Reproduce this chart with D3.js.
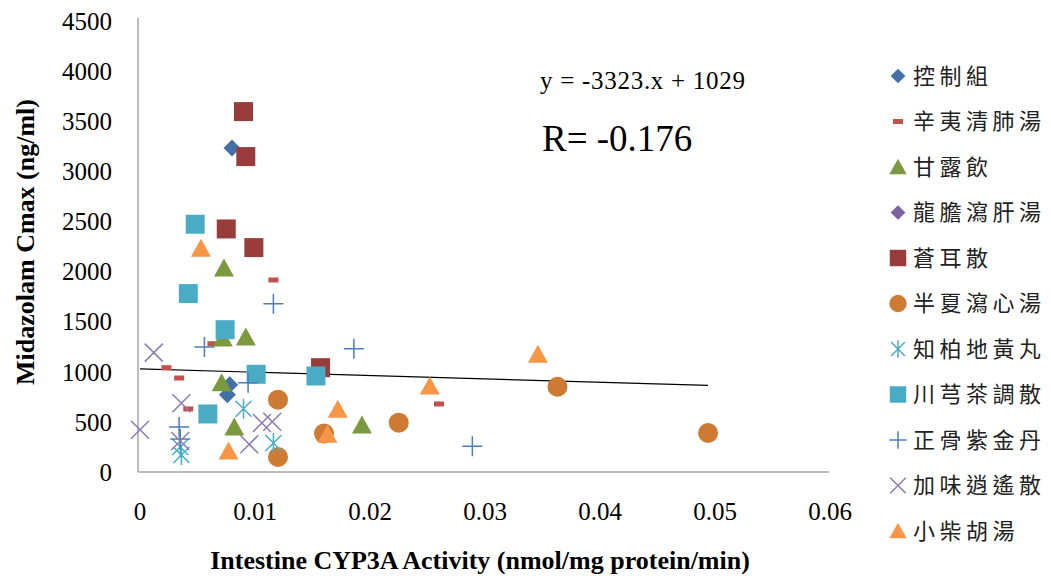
<!DOCTYPE html>
<html>
<head>
<meta charset="utf-8">
<script src="https://cdn.jsdelivr.net/npm/d3@7"></script>
<style>
  html, body { margin: 0; padding: 0; background: #fff; }
  svg { display: block; }
  .serif { font-family: "Liberation Serif", "Times New Roman", serif; }
  .cjk { font-family: "Noto Sans CJK TC", "Noto Sans CJK SC", serif; }
</style>
</head>
<body>
<svg id="chart" width="1051" height="576"></svg>
<script>
// Intestine CYP3A activity (x) vs Midazolam Cmax (y), one array pair per formula group
const seriesNames = ["控制組", "辛夷清肺湯", "甘露飲", "龍膽瀉肝湯", "蒼耳散", "半夏瀉心湯",
                     "知柏地黃丸", "川芎茶調散", "正骨紫金丹", "加味逍遙散", "小柴胡湯"];

const controlX = [0.0080, 0.0078, 0.0076];
const controlY = [3234, 870, 770];

const xinyiX = [0.0116, 0.0063, 0.0023, 0.0034, 0.0042, 0.0260];
const xinyiY = [1916, 1280, 1041, 938, 629, 679];

const ganluX = [0.0073, 0.0092, 0.0072, 0.0071, 0.0082, 0.0193];
const ganluY = [2036, 1347, 1337, 891, 449, 469];

const longdanX = [];
const longdanY = [];

const cangerX = [0.0090, 0.0092, 0.0075, 0.0099, 0.0157];
const cangerY = [3596, 3147, 2425, 2239, 1041];

const banxiaX = [0.0120, 0.0120, 0.0160, 0.0225, 0.0363, 0.0494];
const banxiaY = [722, 150, 383, 492, 851, 389];

const zhibaiX = [0.0090, 0.0116, 0.0035, 0.0036];
const zhibaiY = [632, 289, 250, 170];

const chuanxiongX = [0.0048, 0.0042, 0.0074, 0.0101, 0.0059, 0.0153];
const chuanxiongY = [2472, 1780, 1420, 975, 579, 958];

const zhengguX = [0.0116, 0.0056, 0.0094, 0.0034, 0.0035, 0.0186, 0.0289];
const zhengguY = [1680, 1248, 891, 449, 329, 1231, 256];

const jiaweiX = [0.0012, 0.0036, 0.0000, 0.0106, 0.0115, 0.0095, 0.0035];
const jiaweiY = [1191, 686, 422, 489, 502, 276, 309];

const xiaochaiX = [0.0053, 0.0077, 0.0172, 0.0163, 0.0252, 0.0346];
const xiaochaiY = [2233, 209, 626, 376, 858, 1175];

const xTicks = [0, 0.01, 0.02, 0.03, 0.04, 0.05, 0.06];
const yTicks = [0, 500, 1000, 1500, 2000, 2500, 3000, 3500, 4000, 4500];

// fitted trend line y = slope * x + intercept
const slope = -3323;
const intercept = 1029;
const equationText = "y = -3323.x + 1029";
const rText = "R= -0.176";

const xTitle = "Intestine CYP3A Activity (nmol/mg protein/min)";
const yTitle = "Midazolam Cmax (ng/ml)";

// ---- marker shapes -------------------------------------------------------
const diamondType = { draw(c, s) { const r = Math.sqrt(s) / 2; c.moveTo(0, -r); c.lineTo(r, 0); c.lineTo(0, r); c.lineTo(-r, 0); c.closePath(); } };
const squareType = { draw(c, s) { const h = Math.sqrt(s) / 2; c.rect(-h, -h, 2 * h, 2 * h); } };
const dashType = { draw(c, s) { c.rect(-5, -2.5, 10, 5); } };
const triangleType = { draw(c, s) { const w = Math.sqrt(s) / 2; c.moveTo(0, -w * 0.95); c.lineTo(w, w * 0.85); c.lineTo(-w, w * 0.85); c.closePath(); } };
const circleType = { draw(c, s) { const r = Math.sqrt(s) / 2; c.moveTo(r, 0); c.arc(0, 0, r, 0, 2 * Math.PI); } };
const plusType = { draw(c, s) { const r = Math.sqrt(s) / 2; c.moveTo(-r, 0); c.lineTo(r, 0); c.moveTo(0, -r); c.lineTo(0, r); } };
const timesType = { draw(c, s) { const r = Math.sqrt(s) / 2; c.moveTo(-r, -r); c.lineTo(r, r); c.moveTo(-r, r); c.lineTo(r, -r); } };
const asteriskType = { draw(c, s) { const r = Math.sqrt(s) / 2; c.moveTo(-r, -r); c.lineTo(r, r); c.moveTo(-r, r); c.lineTo(r, -r); c.moveTo(0, -r * 1.25); c.lineTo(0, r * 1.25); } };

const groups = [
  { xs: controlX, ys: controlY, type: diamondType, size: 17 * 17, fill: "#4470A8", stroke: null },
  { xs: xinyiX, ys: xinyiY, type: dashType, size: 50, fill: "#C4504C", stroke: null },
  { xs: ganluX, ys: ganluY, type: triangleType, size: 20 * 20, fill: "#7B9A3F", stroke: null },
  { xs: longdanX, ys: longdanY, type: diamondType, size: 17 * 17, fill: "#7E61A0", stroke: null },
  { xs: cangerX, ys: cangerY, type: squareType, size: 19 * 19, fill: "#983D3B", stroke: null },
  { xs: banxiaX, ys: banxiaY, type: circleType, size: 20 * 20, fill: "#CE7A33", stroke: null },
  { xs: zhibaiX, ys: zhibaiY, type: asteriskType, size: 16 * 16, fill: "none", stroke: "#4BACC6" },
  { xs: chuanxiongX, ys: chuanxiongY, type: squareType, size: 19 * 19, fill: "#4AABC5", stroke: null },
  { xs: zhengguX, ys: zhengguY, type: plusType, size: 20 * 20, fill: "none", stroke: "#4A7EBB" },
  { xs: jiaweiX, ys: jiaweiY, type: timesType, size: 18 * 18, fill: "none", stroke: "#8C7BB0" },
  { xs: xiaochaiX, ys: xiaochaiY, type: triangleType, size: 20 * 20, fill: "#F79646", stroke: null }
];

// ---- layout --------------------------------------------------------------
const svg = d3.select("#chart");
const x = d3.scaleLinear().domain([0, 0.06]).range([140, 830]);
const y = d3.scaleLinear().domain([0, 4500]).range([472, 21]);

// axis lines
svg.append("line").attr("x1", 138).attr("x2", 138).attr("y1", 18).attr("y2", 472)
  .attr("stroke", "#A6A6A6").attr("stroke-width", 1.5);
svg.append("line").attr("x1", 138).attr("x2", 829).attr("y1", 472).attr("y2", 472)
  .attr("stroke", "#A6A6A6").attr("stroke-width", 1.5);

// tick labels
svg.append("g").selectAll("text").data(yTicks).join("text")
  .attr("class", "serif").attr("x", 112).attr("y", d => y(d)).attr("dy", "0.35em")
  .attr("text-anchor", "end").attr("font-size", 25).attr("fill", "#000")
  .text(d => d);
svg.append("g").selectAll("text").data(xTicks).join("text")
  .attr("class", "serif").attr("x", d => x(d)).attr("y", 511).attr("dy", "0.35em")
  .attr("text-anchor", "middle").attr("font-size", 25).attr("fill", "#000")
  .text(d => d);

// axis titles
svg.append("text").attr("class", "serif").attr("x", 480).attr("y", 560).attr("dy", "0.35em")
  .attr("text-anchor", "middle").attr("font-size", 26).attr("font-weight", "bold")
  .text(xTitle);
svg.append("text").attr("class", "serif")
  .attr("transform", "translate(25,242) rotate(-90)").attr("dy", "0.35em")
  .attr("text-anchor", "middle").attr("font-size", 26).attr("font-weight", "bold")
  .text(yTitle);

// trend line across the observed x range
const allX = groups.flatMap(g => g.xs);
const xMax = d3.max(allX);
const trend = [0, xMax].map(v => [x(v), y(slope * v + intercept)]);
svg.append("path").attr("d", d3.line()(trend))
  .attr("stroke", "#000").attr("stroke-width", 1.2).attr("fill", "none");

// points
groups.forEach(g => {
  const pts = g.xs.map((v, i) => [v, g.ys[i]]);
  svg.append("g").selectAll("path").data(pts).join("path")
    .attr("transform", d => `translate(${x(d[0])},${y(d[1])})`)
    .attr("d", d3.symbol().type(g.type).size(g.size)())
    .attr("fill", g.fill)
    .attr("stroke", g.stroke || "none")
    .attr("stroke-width", g.stroke ? 1.5 : 0);
});

// equation and correlation
svg.append("text").attr("class", "serif").attr("x", 540).attr("y", 80).attr("dy", "0.35em")
  .attr("font-size", 25).attr("textLength", 205).text(equationText);
svg.append("text").attr("class", "serif").attr("x", 542).attr("y", 138).attr("dy", "0.35em")
  .attr("font-size", 37).text(rText);

// legend
const legend = svg.append("g");
seriesNames.forEach((name, i) => {
  const g = groups[i];
  const ly = 76 + i * 45.5;
  const lsize = g.type === dashType ? g.size : g.size * 0.75;
  legend.append("path")
    .attr("transform", `translate(898,${ly})`)
    .attr("d", d3.symbol().type(g.type).size(lsize)())
    .attr("fill", g.fill).attr("stroke", g.stroke || "none").attr("stroke-width", g.stroke ? 1.5 : 0);
  legend.append("text").attr("class", "cjk").attr("x", 913).attr("y", ly).attr("dy", "0.36em")
    .attr("font-size", 22).attr("letter-spacing", 4.5).attr("fill", "#222").text(name);
});
</script>
</body>
</html>
